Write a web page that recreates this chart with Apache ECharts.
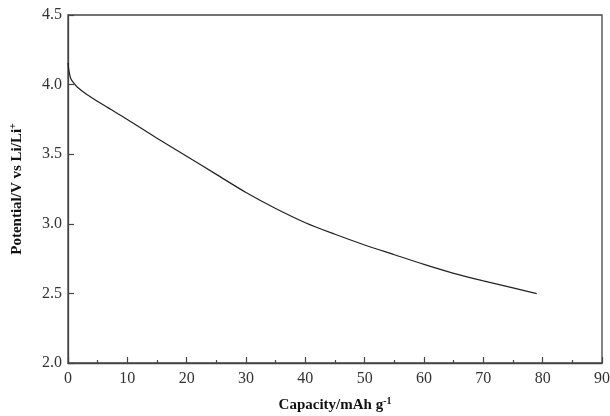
<!DOCTYPE html>
<html>
<head>
<meta charset="utf-8">
<script src="https://cdn.jsdelivr.net/npm/echarts@6/dist/echarts.min.js"></script>
<style>
  html, body { margin: 0; padding: 0; background: #fff; }
  #chart { width: 610px; height: 416px; }
</style>
</head>
<body>
<div id="chart"></div>
<script>
// discharge curve
var capacity = [0, 0.2, 0.5, 1, 1.5, 3, 6, 10, 15, 20, 25, 30, 35, 40, 45, 50, 55, 60, 65, 70, 75, 79];
var potential = [4.155, 4.09, 4.04, 4.01, 3.985, 3.935, 3.853, 3.75, 3.615, 3.485, 3.355, 3.225, 3.11, 3.008, 2.925, 2.848, 2.778, 2.708, 2.644, 2.59, 2.54, 2.498];

var points = [];
for (var i = 0; i < capacity.length; i++) {
    points.push([capacity[i], potential[i]]);
}

var axisColor = '#444';
var font = 'Liberation Serif';

var chart = echarts.init(document.getElementById('chart'));
chart.setOption({
    animation: false,
    grid: {
        left: 68, right: 8, top: 15, bottom: 53,
        outerBoundsMode: 'none', containLabel: false,
        show: true, borderColor: axisColor, borderWidth: 1.3, backgroundColor: 'transparent'
    },
    xAxis: {
        type: 'value', min: 0, max: 90, interval: 10,
        name: '{b|Capacity/mAh g}{sup|-1}',
        nameLocation: 'middle', nameGap: 33,
        nameTextStyle: {
            rich: {
                b: { fontFamily: font, fontWeight: 'bold', fontSize: 15, color: '#111' },
                sup: { fontFamily: font, fontWeight: 'bold', fontSize: 10, color: '#111', verticalAlign: 'top', padding: [0, 0, 8, 0] }
            }
        },
        axisLine: { lineStyle: { color: axisColor, width: 1.3 } },
        axisTick: { inside: true, length: 6, lineStyle: { color: axisColor, width: 1.2 } },
        minorTick: { show: true, splitNumber: 2, length: 3, lineStyle: { color: axisColor, width: 1.2 } },
        axisLabel: { fontFamily: font, fontSize: 16, color: '#333', margin: 8 },
        splitLine: { show: false }
    },
    yAxis: {
        type: 'value', min: 2.0, max: 4.5, interval: 0.5,
        name: '{b|Potential/V vs Li/Li}{sup|+}',
        nameLocation: 'middle', nameGap: 42,
        nameTextStyle: {
            rich: {
                b: { fontFamily: font, fontWeight: 'bold', fontSize: 15, color: '#111' },
                sup: { fontFamily: font, fontWeight: 'bold', fontSize: 10, color: '#111', verticalAlign: 'top', padding: [0, 0, 8, 0] }
            }
        },
        axisLine: { lineStyle: { color: axisColor, width: 1.3 } },
        axisTick: { inside: true, length: 6, lineStyle: { color: axisColor, width: 1.2 } },
        axisLabel: {
            fontFamily: font, fontSize: 16, color: '#333', margin: 6,
            formatter: function (v) { return v.toFixed(1); }
        },
        splitLine: { show: false }
    },
    series: [{
        type: 'line',
        data: points,
        smooth: 0.3,
        showSymbol: false,
        lineStyle: { color: '#222', width: 1.2 }
    }]
});
</script>
</body>
</html>
